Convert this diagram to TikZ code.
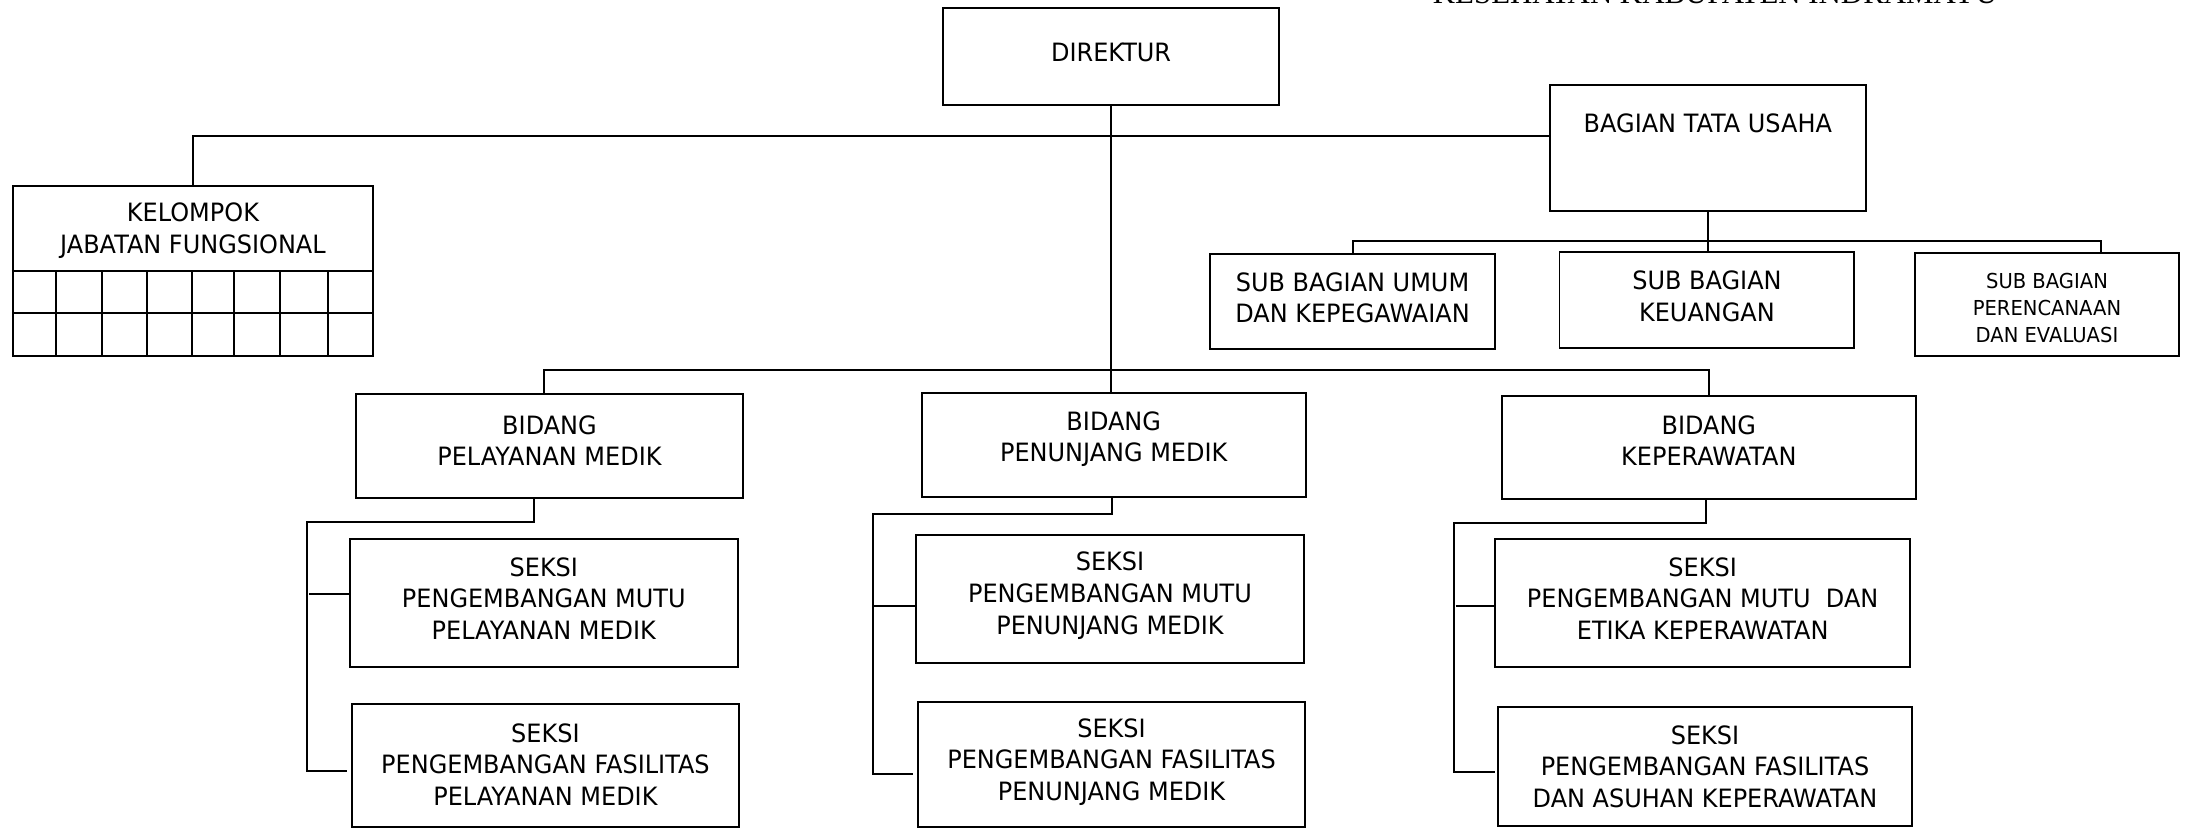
\documentclass[tikz,border=0pt]{standalone}
\usepackage{fontspec}
\setmainfont{DejaVu Sans}[FakeStretch=0.95]
\newfontfamily\judulfont{Liberation Serif}
\usetikzlibrary{calc}
\newcommand{\satuan}{0.02cm}

\begin{document}
\begin{tikzpicture}[x=0.02cm, y=-0.02cm,
    kotak/.style 2 args={draw, line width=0.8pt, inner sep=0pt,
        minimum width=#1*\satuan, minimum height=#2*\satuan},
    teks/.style={align=center, inner sep=0pt, font=\fontsize{10.3}{12.9}\selectfont},
    tekskecil/.style={align=center, inner sep=0pt, font=\fontsize{8.4}{11.2}\selectfont},
    garis/.style={line width=0.8pt}]
    \useasboundingbox (0,0) rectangle (1568,593.65);

    % Judul (terpotong di tepi atas)
    \node[anchor=base west, inner sep=0pt, font=\judulfont\fontsize{12.6}{14}\selectfont] (judul) at (1027,2.8) {KESEHATAN KABUPATEN INDRAMAYU};

    % Direktur
    \node[kotak={241.2}{69.3}] (direktur) at (796.6,40.65) {};
    \node[teks] (tdirektur) at (796.6,37.8) {DIREKTUR};

    % Bagian tata usaha dan sub bagian
    \node[kotak={226.3}{90.4}] (bagian) at (1224.45,106.1) {};
    \node[teks] (tbagian) at (1224.45,88.4) {BAGIAN TATA USAHA};
    \node[kotak={204.4}{68.4}] (umum) at (969.7,216.3) {};
    \node[teks] (tumum) at (969.7,213.5) {SUB BAGIAN UMUM\\DAN KEPEGAWAIAN};
    \node[kotak={211.4}{68.3}] (keuangan) at (1223.8,215.15) {};
    \node[teks] (tkeuangan) at (1223.8,212.3) {SUB BAGIAN\\KEUANGAN};
    \node[kotak={189.2}{73.6}] (perencanaan) at (1467.6,218.4) {};
    \node[tekskecil] (tperencanaan) at (1467.6,220.8) {SUB BAGIAN\\PERENCANAAN\\DAN EVALUASI};

    % Kelompok jabatan fungsional
    \node[kotak={258.1}{121.8}] (kelompok) at (138.35,194.3) {};
    \node[teks] (tkelompok) at (138.35,165.5) {KELOMPOK\\JABATAN FUNGSIONAL};
    \foreach \y in {194.3,224.4}
        \draw[garis] (kelompok.west |- 0,\y) -- (kelompok.east |- 0,\y);
    \foreach \x in {40.1,73.1,105.4,137.7,167.8,200.7,235.2}
        \draw[garis] (\x,194.3) -- (\x,0 |- kelompok.south);

    % Bidang
    \node[kotak={277.3}{74.6}] (pelayanan) at (393.95,320) {};
    \node[teks] (tpelayanan) at (393.95,316) {BIDANG\\PELAYANAN MEDIK};
    \node[kotak={275}{74.6}] (penunjang) at (798.5,319.3) {};
    \node[teks] (tpenunjang) at (798.5,315) {BIDANG\\PENUNJANG MEDIK};
    \node[kotak={297.1}{74.1}] (keperawatan) at (1225.15,320.95) {};
    \node[teks] (tkeperawatan) at (1225.15,315.8) {BIDANG\\KEPERAWATAN};

    % Seksi
    \node[kotak={278}{91.6}] (seksipel1) at (389.9,432.2) {};
    \node[teks] (tseksipel1) at (389.9,429) {SEKSI\\PENGEMBANGAN MUTU\\PELAYANAN MEDIK};
    \node[kotak={277.9}{88.3}] (seksipel2) at (391.05,548.85) {};
    \node[teks] (tseksipel2) at (391.05,548) {SEKSI\\PENGEMBANGAN FASILITAS\\PELAYANAN MEDIK};
    \node[kotak={278.2}{92}] (seksipen1) at (795.8,429.6) {};
    \node[teks] (tseksipen1) at (795.8,427.1) {SEKSI\\PENGEMBANGAN MUTU\\PENUNJANG MEDIK};
    \node[kotak={278}{89.4}] (seksipen2) at (796.9,548) {};
    \node[teks] (tseksipen2) at (796.9,546.3) {SEKSI\\PENGEMBANGAN FASILITAS\\PENUNJANG MEDIK};
    \node[kotak={297.4}{91.6}] (seksikep1) at (1220.7,432.2) {};
    \node[teks] (tseksikep1) at (1220.7,429) {SEKSI\\PENGEMBANGAN MUTU\ \ DAN\\ETIKA KEPERAWATAN};
    \node[kotak={296.8}{85.6}] (seksikep2) at (1222.4,549.4) {};
    \node[teks] (tseksikep2) at (1222.4,549.7) {SEKSI\\PENGEMBANGAN FASILITAS\\DAN ASUHAN KEPERAWATAN};

    % Garis dari direktur
    \draw[garis] (direktur.south) -- (direktur.south |- penunjang.north);
    \coordinate (cabang) at (796.6,97.5);
    \draw[garis] (kelompok.north) |- (cabang) -- (cabang -| bagian.west);

    % Garis bagian tata usaha
    \coordinate (ksub) at (1224.45,172.6);
    \coordinate (kperencanaan) at (1506.3,181.6);
    \draw[garis] (bagian.south) -- (bagian.south |- keuangan.north);
    \draw[garis] (umum.north) |- (ksub) -| (kperencanaan);

    % Garis bidang
    \coordinate (kbidang) at (796.6,265);
    \draw[garis] ($(pelayanan.north)+(-4,0)$) |- (kbidang) -| (keperawatan.north);

    % Garis seksi pelayanan medik
    \coordinate (spel) at (219.9,374.5);
    \draw[garis] ($(pelayanan.south)+(-11,0)$) |- (spel) |- ($(seksipel2.west)+(-2.6,3.6)$);
    \draw[garis] ($(seksipel1.west)+(-28.6,-6.6)$) -- ($(seksipel1.west)+(0,-6.6)$);

    % Garis seksi penunjang medik
    \coordinate (spen) at (626.1,368.8);
    \draw[garis] ($(penunjang.south)+(-1.5,0)$) |- (spen) |- ($(seksipen2.west)+(-2.4,6.7)$);
    \draw[garis] ($(seksipen1.west)+(-30.6,5.1)$) -- ($(seksipen1.west)+(0,5.1)$);

    % Garis seksi keperawatan
    \coordinate (skep) at (1042.4,375.2);
    \draw[garis] ($(keperawatan.south)+(-2,0)$) |- (skep) |- ($(seksikep2.west)+(-1.4,4.3)$);
    \draw[garis] ($(seksikep1.west)+(-27.6,2.3)$) -- ($(seksikep1.west)+(0,2.3)$);

\end{tikzpicture}
\end{document}
